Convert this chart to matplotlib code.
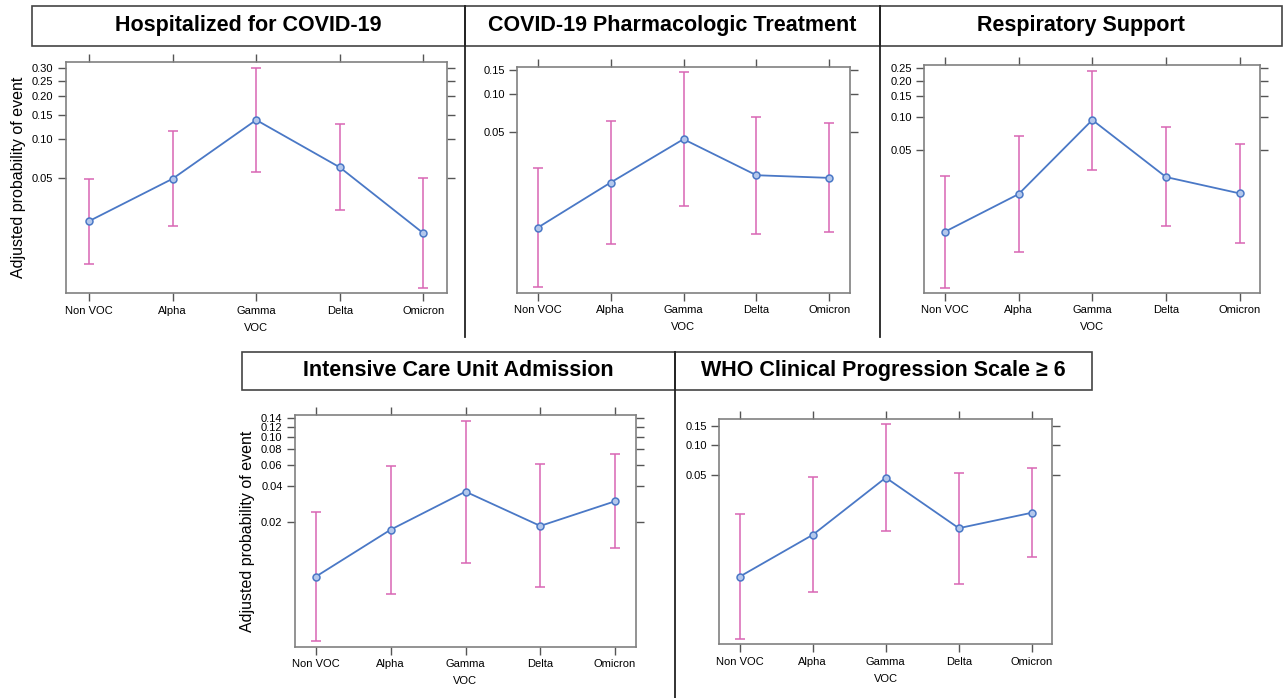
import matplotlib
matplotlib.use("Agg")
import matplotlib.pyplot as plt
from matplotlib.lines import Line2D
from matplotlib.patches import Rectangle
from matplotlib.ticker import NullLocator

# Data: adjusted probability of event by VOC (estimate, lower CI, upper CI)
voc = ["Non VOC", "Alpha", "Gamma", "Delta", "Omicron"]

hosp_est = [0.0228, 0.0496, 0.1375, 0.0609, 0.0182]
hosp_lo = [0.0103, 0.0208, 0.0558, 0.0279, 0.00653]
hosp_hi = [0.0494, 0.114, 0.299, 0.128, 0.0500]

pharm_est = [0.00796, 0.0191, 0.0437, 0.0220, 0.0209]
pharm_lo = [0.00248, 0.00580, 0.0121, 0.00709, 0.00733]
pharm_hi = [0.0252, 0.0610, 0.1455, 0.0664, 0.0588]

resp_est = [0.00835, 0.0192, 0.0936, 0.0279, 0.0195]
resp_lo = [0.00240, 0.00528, 0.0325, 0.00942, 0.00655]
resp_hi = [0.0286, 0.0673, 0.2376, 0.0805, 0.0572]

icu_est = [0.00689, 0.0173, 0.0361, 0.0186, 0.0300]
icu_lo = [0.00193, 0.00492, 0.00902, 0.00559, 0.0121]
icu_hi = [0.0243, 0.0590, 0.1329, 0.0606, 0.0729]

who_est = [0.00432, 0.0120, 0.0473, 0.0141, 0.0205]
who_lo = [0.000932, 0.00294, 0.0131, 0.00363, 0.00703]
who_hi = [0.0197, 0.0484, 0.157, 0.0525, 0.0588]

titles = ["Hospitalized for COVID-19", "COVID-19 Pharmacologic Treatment",
          "Respiratory Support", "Intensive Care Unit Admission",
          "WHO Clinical Progression Scale \u2265 6"]

hosp_ticks = [0.05, 0.10, 0.15, 0.20, 0.25, 0.30]
pharm_ticks = [0.05, 0.10, 0.15]
resp_ticks = [0.05, 0.10, 0.15, 0.20, 0.25]
icu_ticks = [0.02, 0.04, 0.06, 0.08, 0.10, 0.12, 0.14]
who_ticks = [0.05, 0.10, 0.15]

# y-axis limits
hosp_ylim = (0.00588, 0.323)
pharm_ylim = (0.00223, 0.158)
resp_ylim = (0.00215, 0.2615)
icu_ylim = (0.00172, 0.1464)
who_ylim = (0.000818, 0.174)

W, H = 1288, 698
blue = "#4a78c6"
pink = "#d866b4"
frame = "#808080"

plt.rcParams["font.family"] = ["Liberation Sans", "DejaVu Sans"]

fig = plt.figure(figsize=(W / 100, H / 100), dpi=100)


def rect(l, t, r, b):
    return [l / W, 1 - b / H, (r - l) / W, (b - t) / H]


def draw_panel(box, est, lo, hi, ticks, ylim, ylabel=None):
    ax = fig.add_axes(rect(*box))
    x = list(range(len(voc)))
    yerr = [[e - l for e, l in zip(est, lo)], [h - e for e, h in zip(est, hi)]]
    ax.errorbar(x, est, yerr=yerr, fmt="none", ecolor=pink, elinewidth=1.1,
                capsize=3.6, capthick=1.1, zorder=2)
    ax.plot(x, est, color=blue, lw=1.3, marker="o", ms=5, mfc="#b4c8ec",
            mec=blue, mew=1.1, zorder=3)
    ax.set_yscale("logit")
    ax.set_ylim(*ylim)
    ax.set_xlim(-0.28, len(voc) - 1 + 0.28)
    ax.set_yticks(ticks)
    ax.set_yticklabels(["%.2f" % t for t in ticks])
    ax.yaxis.set_minor_locator(NullLocator())
    ax.set_xticks(x)
    ax.set_xticklabels(voc)
    ax.tick_params(axis="both", direction="out", length=6, width=1, color="#555555",
                   labelsize=8, pad=3, top=True, right=True, labeltop=False,
                   labelright=False)
    for s in ax.spines.values():
        s.set_color(frame)
        s.set_linewidth(1.2)
    ax.set_xlabel("VOC", fontsize=8, labelpad=5)
    if ylabel:
        ax.set_ylabel(ylabel, fontsize=11.5, labelpad=4)
    return ax


def strip(l, t, r, b, text, family):
    fig.patches.append(Rectangle((l / W, 1 - b / H), (r - l) / W, (b - t) / H,
                                 transform=fig.transFigure, fill=False,
                                 edgecolor="#444444", lw=1.2))
    fig.text((l + r) / 2 / W, 1 - (t + b) / 2 / H, text, ha="center", va="center",
             fontsize=15.5, fontweight="bold", family=family)


def vline(x, t, b):
    fig.lines.append(Line2D([x / W, x / W], [1 - t / H, 1 - b / H],
                            transform=fig.transFigure, color="#222222", lw=1.3))


ylab = "Adjusted probability of event"
draw_panel((65.7, 62.3, 446.7, 293.3), hosp_est, hosp_lo, hosp_hi, hosp_ticks, hosp_ylim, ylab)
draw_panel((517.3, 67.3, 849.7, 292.7), pharm_est, pharm_lo, pharm_hi, pharm_ticks, pharm_ylim)
draw_panel((924.3, 65, 1260.3, 292.5), resp_est, resp_lo, resp_hi, resp_ticks, resp_ylim)
draw_panel((295, 415, 636, 646.7), icu_est, icu_lo, icu_hi, icu_ticks, icu_ylim, ylab)
draw_panel((719.3, 419, 1052.3, 644.3), who_est, who_lo, who_hi, who_ticks, who_ylim)

top_font = ["Liberation Sans", "DejaVu Sans"]
narrow_font = ["Liberation Sans Narrow", "Liberation Sans", "DejaVu Sans"]
strip(32, 5.7, 465, 45.7, titles[0], top_font)
strip(465, 5.7, 880, 45.7, titles[1], top_font)
strip(880, 5.7, 1282, 45.7, titles[2], top_font)
strip(242, 351.5, 675, 390, titles[3], narrow_font)
strip(675, 351.5, 1092, 390, titles[4], narrow_font)

vline(465, 5.7, 337)
vline(880, 5.7, 337)
vline(675, 351.5, 698)

fig.savefig("out.png", dpi=100)
